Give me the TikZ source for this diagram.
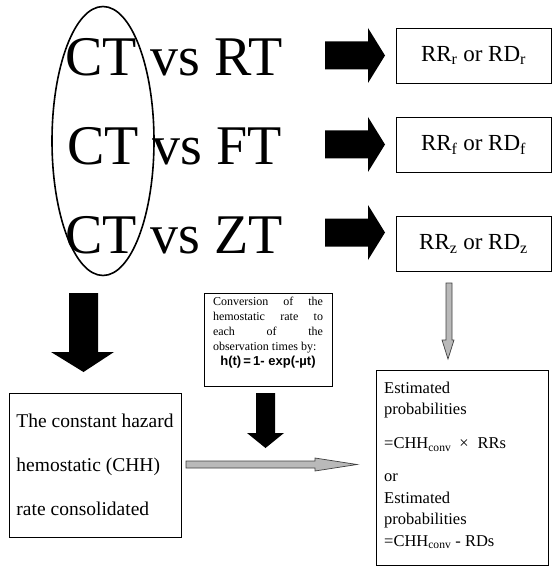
\documentclass[tikz,border=0pt]{standalone}
\usepackage{fontspec}
\setmainfont{Liberation Serif}
\newfontfamily\arialfont{Liberation Sans}
\usetikzlibrary{shapes.geometric}
\newcommand{\jline}[1]{\makebox[110pt][s]{#1}}
\begin{document}
\begin{tikzpicture}[x=1pt,y=-1pt,
  box/.style={draw, line width=0.8pt, inner sep=0pt},
  big/.style={anchor=base west, inner sep=0pt, font=\fontsize{56}{56}\selectfont},
  rbox/.style={box, minimum width=155, minimum height=55, font=\fontsize{23}{23}\selectfont},
  blk/.style={fill=black},
  gry/.style={fill=gray!55, draw=black!75, line width=0.7pt}]
\useasboundingbox (0,0) rectangle (552,569);

% comparisons
\node[big] (c1) at (65,76) {CT vs RT};
\node[big] (c2) at (67,165) {CT vs FT};
\node[big] (c3) at (65,253) {CT vs ZT};
\node[ellipse, draw, line width=1.6pt, minimum width=102, minimum height=269, inner sep=0pt] (ell) at (103,141) {};

% black right arrows
\foreach \c in {55.5,144.5,232.5}
  \fill[blk] (325,\c-14) -- (368,\c-14) -- (368,\c-27.5) -- (385,\c) -- (368,\c+27.5) -- (368,\c+14) -- (325,\c+14) -- cycle;

% result boxes
\node[rbox] (r1) at (473.5,55.5) {RR\textsubscript{r} or RD\textsubscript{r}};
\node[rbox] (r2) at (473.5,145) {RR\textsubscript{f} or RD\textsubscript{f}};
\node[rbox] (r3) at (473.5,244) {RR\textsubscript{z} or RD\textsubscript{z}};

% big black down arrow (left)
\fill[blk] (69,293) -- (98,293) -- (98,352) -- (114,352) -- (83.5,372) -- (51,352) -- (69,352) -- cycle;

% conversion box
\node[box, minimum width=128, minimum height=93] (conv) at (268,339.5) {};
\node[anchor=north, inner sep=0pt, align=left, font=\fontsize{12}{15}\selectfont] (convtext) at (268,297)
  {\jline{Conversion of the}\\
   \jline{hemostatic rate to}\\
   \jline{each of the}\\
   observation times by:\\
   \makebox[110pt]{\arialfont\bfseries\fontsize{13}{17}\selectfont h(t)\,=\,1- exp(-µt)}};

% small black down arrow
\fill[blk] (256,393) -- (275,393) -- (275,433) -- (284,433) -- (265.5,448) -- (247,433) -- (256,433) -- cycle;

% left box
\node[box, minimum width=172, minimum height=144, align=left, font=\fontsize{19.5}{44}\selectfont] (chh) at (95,465)
  {The constant hazard\\hemostatic (CHH)\\rate consolidated};

% gray down arrow
\filldraw[gry] (446,283) -- (452,283) -- (452,340) -- (454,340) -- (448,359) -- (442,340) -- (446,340) -- cycle;

% gray right arrow
\filldraw[gry] (186,461) -- (315,461) -- (315,458) -- (357,464.5) -- (315,471) -- (315,468) -- (186,468) -- cycle;

% estimated box
\node[box, minimum width=172, minimum height=195] (est) at (462,467.5) {};
\node[anchor=north west, inner sep=0pt, align=left, font=\fontsize{16.5}{21.5}\selectfont] (esttext) at (384,381.5)
  {Estimated\\probabilities\\[12.5pt]
   =CHH\textsubscript{conv}\hspace{8pt}×\hspace{9pt}RRs\\[11.5pt]
   or\\Estimated\\probabilities\\
   =CHH\textsubscript{conv} - RDs};
\end{tikzpicture}
\end{document}
